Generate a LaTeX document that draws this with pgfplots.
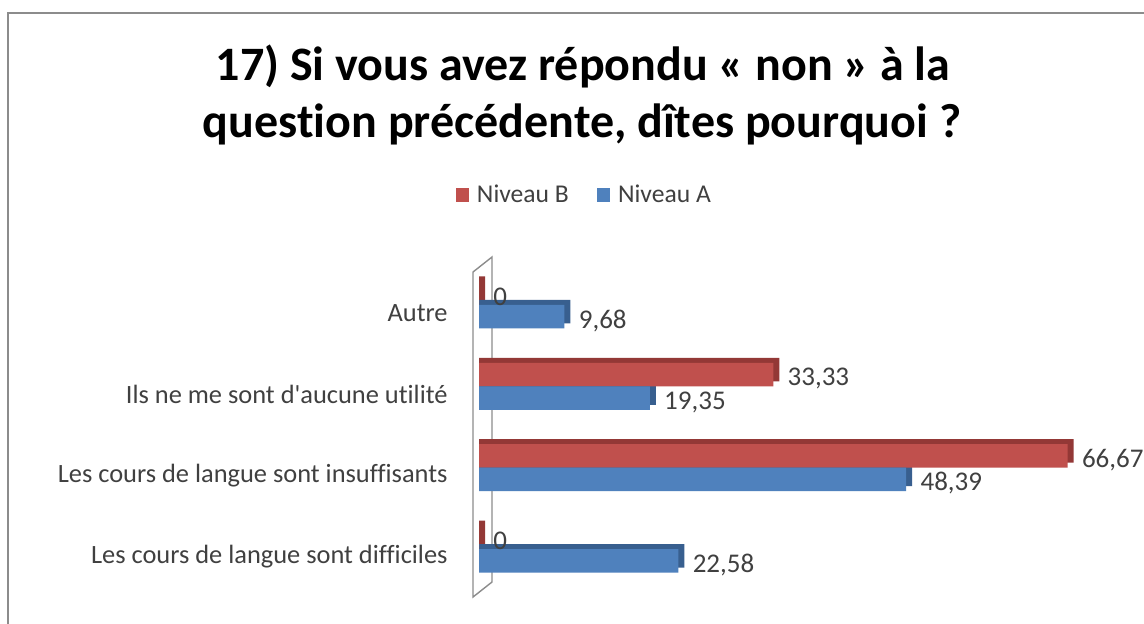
\documentclass[border=0pt]{standalone}
\usepackage{pgfplots}
\pgfplotsset{compat=1.18}
\usepackage{fontspec}
\setmainfont{Carlito}[RawFeature={-liga;-clig;-calt;-dlig}]
\definecolor{cred}{HTML}{C0504D}
\definecolor{cblue}{HTML}{4F81BD}
\definecolor{dred}{HTML}{933836}
\definecolor{dblue}{HTML}{385F8F}
\definecolor{txt}{HTML}{404040}
\definecolor{frame}{HTML}{8C8C8C}
\begin{document}
\begin{tikzpicture}
\clip (0,0) rectangle (572pt,311.5pt);
\fill[white] (0,0) rectangle (572pt,311.5pt);
\draw[frame, line width=0.8pt] (4pt,-20pt) -- (4pt,305pt) -- (620pt,305pt);
% title
\node[anchor=base, inner sep=0] at (291.5pt,271.5pt) {\fontsize{24}{29}\selectfont\bfseries 17) Si vous avez répondu « non » à la};
\node[anchor=base, inner sep=0] at (291pt,243pt) {\fontsize{24}{29}\selectfont\bfseries question précédente, dîtes pourquoi ?};
% back wall
\draw[frame, line width=0.7pt, fill=white] (236.5pt,175.5pt) -- (246pt,183pt) -- (246pt,20.5pt) -- (236.5pt,13pt) -- cycle;
\begin{axis}[
  at={(239.5pt,16.65pt)}, anchor=south west,
  scale only axis, width=309pt, height=162.7pt,
  xmin=0, xmax=70, ymin=-0.5, ymax=3.5,
  xbar, bar width=11.75pt,
  hide x axis,
  axis y line*=left,
  y axis line style={draw=none},
  ytick={0,1,2,3},
  yticklabels={Les cours de langue sont difficiles, Les cours de langue sont insuffisants, Ils ne me sont d\textquotesingle aucune utilité, Autre},
  major tick length=0pt,
  yticklabel style={font=\fontsize{13.2}{15}\selectfont, text=txt, anchor=east, inner sep=0pt, xshift=-15.5pt, yshift=-4pt},
  /pgf/number format/assume math mode=true,
  /pgf/number format/.cd, use comma, fixed, precision=2, /pgfplots/.cd,
  legend style={at={(0.172,1.213)}, anchor=center, draw=none, fill=none, legend columns=2,
    font=\fontsize{12.8}{14}\selectfont, text=txt,
    /tikz/every even column/.append style={column sep=12pt},
    /tikz/every odd column/.append style={column sep=2pt}},
  legend image code/.code={\fill[#1] (0pt,-3.3pt) rectangle (6.6pt,3.3pt);},
  clip=false,
]
% depth (shadow) bars
\addplot[fill=dred, draw=none, bar shift=5.875pt, yshift=2.5pt, x filter/.expression={x+0.68}, forget plot]
  coordinates {(0,0) (66.67,1) (33.33,2) (0,3)};
\addplot[fill=dblue, draw=none, bar shift=-5.875pt, yshift=2.5pt, x filter/.expression={x+0.68}, forget plot]
  coordinates {(22.58,0) (48.39,1) (19.35,2) (9.68,3)};
% front bars
\addplot[fill=cred, draw=none, bar shift=5.875pt,
  nodes near coords, every node near coord/.append style={font=\fontsize{13.5}{15}\selectfont, text=txt, anchor=west, inner sep=0pt, xshift=7pt, yshift=-2pt}]
  coordinates {(0,0) (66.67,1) (33.33,2) (0,3)};
\addlegendentry{Niveau B}
\addplot[fill=cblue, draw=none, bar shift=-5.875pt,
  nodes near coords, every node near coord/.append style={font=\fontsize{13.5}{15}\selectfont, text=txt, anchor=west, inner sep=0pt, xshift=7pt, yshift=-2pt}]
  coordinates {(22.58,0) (48.39,1) (19.35,2) (9.68,3)};
\addlegendentry{Niveau A}
\end{axis}
\end{tikzpicture}
\end{document}
